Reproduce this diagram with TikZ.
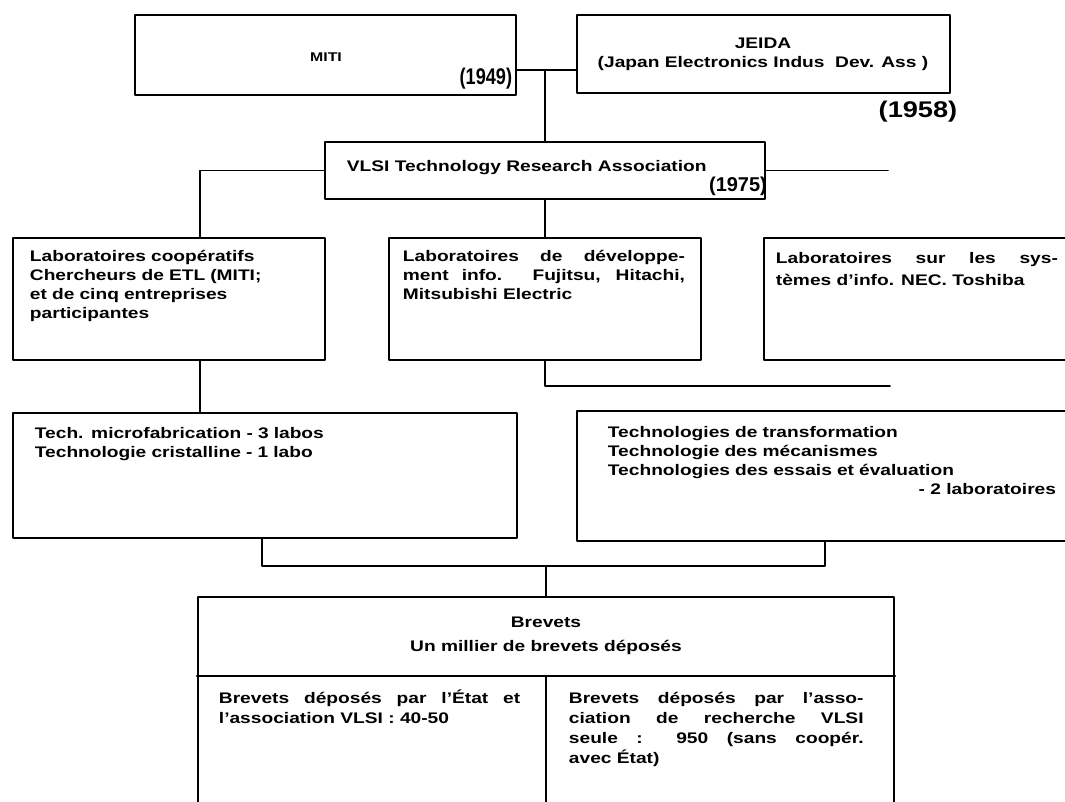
\documentclass[tikz,border=0pt]{standalone}
\usepackage{fontspec}
\setmainfont{Liberation Sans}[FakeStretch=1.25]
\newfontfamily\handA{Liberation Sans Bold}[FakeStretch=0.8]
\newfontfamily\handB{Liberation Sans Bold}[FakeStretch=1.2]
\newfontfamily\handC{Liberation Sans Bold}[FakeStretch=1.0]
\usetikzlibrary{fit}
\begin{document}
\begin{tikzpicture}[x=0.75pt,y=-0.75pt,
  line width=1.4pt, line cap=round, line join=round,
  boxst/.style={draw, line width=1.8pt, inner sep=0pt},
  txt/.style={inner sep=0pt, font=\bfseries\fontsize{11.5}{14.25}\selectfont},
  para/.style={txt, anchor=base west, align=justify},
  hand/.style={inner sep=0pt}
]
\useasboundingbox (0,0) rectangle (1065,801);
\clip (0,0) rectangle (1065,801);

% --- top level: MITI and JEIDA
\node[boxst, fit={(135,15) (516,95)}] (miti) {};
\node[txt, font=\bfseries\fontsize{9.5}{12}\selectfont] (mititxt) at (326,57) {MITI};
\node[hand, font=\handA\fontsize{17}{17}\selectfont, anchor=east] (y1949) at (513,79) {(1949)};

\node[boxst, fit={(577,15) (950,93)}] (jeida) {};
\node[txt, align=center, font=\bfseries\fontsize{11.5}{14.25}\selectfont] (jeidatxt) at (763,54)
  {JEIDA\\(Japan Electronics Indus\ \ Dev. Ass )};
\node[hand, font=\handB\fontsize{17}{17}\selectfont] (y1958) at (918,112) {(1958)};

% --- VLSI association
\node[boxst, fit={(325,142) (765,199)}] (vlsi) {};
\node[txt, anchor=west] (vlsitxt) at (346,168)
  {VLSI Technology Research Association};
\node[hand, font=\handC\fontsize{15}{15}\selectfont] (y1975) at (738,186) {(1975)};

% --- laboratories
\node[boxst, fit={(13,238) (325,360)}] (lablft) {};
\node[para, text width=225pt, align=left] (lablfttxt) at (29,261)
  {Laboratoires coopératifs\\Chercheurs de ETL (MITI;\\et de cinq entreprises\\participantes};

\node[boxst, fit={(389,238) (701,360)}] (labmid) {};
\node[para, text width=211.5pt] (labmidtxt) at (402,261)
  {\noindent Laboratoires de développe-\linebreak ment info. Fujitsu, Hitachi,\linebreak Mitsubishi Electric};

\node[boxst, fit={(764,238) (1080,360)}] (labrgt) {};
\node[para, text width=211.5pt, font=\bfseries\fontsize{11.5}{16.5}\selectfont] (labrgttxt) at (775,263)
  {\noindent Laboratoires sur les sys-\linebreak tèmes d'info. NEC. Toshiba};

% --- technology groups
\node[boxst, fit={(13,413) (517,538)}] (techl) {};
\node[para, text width=340pt, align=left] (techltxt) at (34,438)
  {Tech. microfabrication - 3 labos\\Technologie cristalline - 1 labo};

\node[boxst, fit={(577,411) (1080,541)}] (techr) {};
\node[para, text width=340pt, align=left] (techrtxt) at (607,437)
  {Technologies de transformation\\Technologie des mécanismes\\Technologies des essais et évaluation};
\node[txt, anchor=base east] (techrlab) at (1057,494) {- 2 laboratoires};

% --- patents
\node[boxst, fit={(198,597) (894,830)}] (brev) {};
\node[txt, align=center, font=\bfseries\fontsize{11.5}{18}\selectfont] (brevtxt) at (546,636)
  {Brevets\\Un millier de brevets déposés};
\node[para, text width=226pt, font=\bfseries\fontsize{11.5}{15}\selectfont] (etat) at (218,703)
  {\noindent Brevets déposés par l'État et\linebreak l'association VLSI : 40-50};
\node[para, text width=221pt, font=\bfseries\fontsize{11.5}{15}\selectfont] (assoc) at (568,703)
  {\noindent Brevets déposés par l'asso-\linebreak ciation de recherche VLSI\linebreak seule : 950 (sans coopér.\linebreak avec État)};

% --- connectors
\coordinate (top) at (545,70);
\draw (miti.east |- top) -- (jeida.west |- top);
\draw (top) -- (vlsi.north);

\coordinate (lv) at (200,169);
\draw (vlsi.west) -| (lv |- lablft.north);
\coordinate (vr) at (888,169);
\draw (vlsi.east) -- (vlsi.east -| vr);
\draw (vlsi.south) -- (labmid.north);

\coordinate (mr) at (890,386);
\draw (labmid.south) |- (mr);
\draw (lv |- lablft.south) -- (lv |- techl.north);

\coordinate (tj) at (546,566);
\coordinate (tl) at (262,566);
\coordinate (tr) at (825,566);
\draw (tl |- techl.south) -- (tl) -- (tr) -- (tr |- techr.south);
\draw (tj) -- (brev.north);

\coordinate (dv) at (546,676);
\draw (brev.west |- dv) -- (brev.east |- dv);
\draw (dv) -- (dv |- brev.south);
\end{tikzpicture}
\end{document}
